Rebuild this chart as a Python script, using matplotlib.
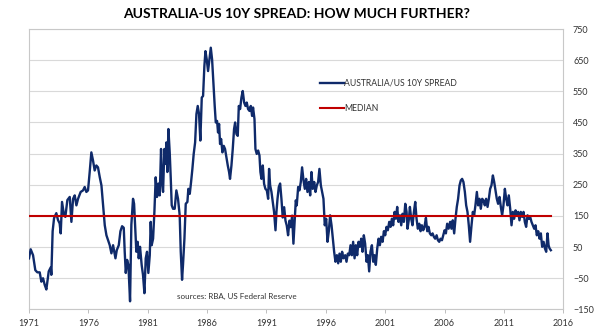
import matplotlib.pyplot as plt
import numpy as np

#australia minus us 10y yield spread, basis points, decimal years
years = [1971.00, 1971.14, 1971.34, 1971.53, 1971.70, 1971.90, 1972.04, 1972.18, 1972.32, 1972.46,
         1972.66, 1972.83, 1972.88, 1972.99, 1973.11, 1973.30, 1973.44, 1973.58, 1973.67, 1973.78,
         1973.95, 1974.06, 1974.23, 1974.43, 1974.57, 1974.71, 1974.85, 1974.99, 1975.13, 1975.35,
         1975.55, 1975.69, 1975.83, 1975.97, 1976.11, 1976.25, 1976.39, 1976.53, 1976.67, 1976.81,
         1976.96, 1977.10, 1977.24, 1977.38, 1977.52, 1977.66, 1977.80, 1977.94, 1978.08, 1978.28,
         1978.39, 1978.56, 1978.70, 1978.84, 1978.98, 1979.06, 1979.15, 1979.26, 1979.37, 1979.51,
         1979.62, 1979.76, 1979.85, 1979.99, 1980.04, 1980.15, 1980.24, 1980.35, 1980.49, 1980.60,
         1980.72, 1980.83, 1980.94, 1981.05, 1981.17, 1981.25, 1981.33, 1981.45, 1981.56, 1981.67,
         1981.78, 1981.90, 1982.01, 1982.12, 1982.20, 1982.29, 1982.40, 1982.49, 1982.57, 1982.65,
         1982.74, 1982.85, 1982.94, 1983.02, 1983.13, 1983.27, 1983.41, 1983.55, 1983.69, 1983.78,
         1983.89, 1983.97, 1984.09, 1984.20, 1984.34, 1984.42, 1984.54, 1984.65, 1984.76, 1984.87,
         1984.99, 1985.10, 1985.21, 1985.32, 1985.43, 1985.55, 1985.66, 1985.77, 1985.86, 1985.97,
         1986.08, 1986.19, 1986.31, 1986.42, 1986.53, 1986.64, 1986.73, 1986.84, 1986.92, 1987.01,
         1987.09, 1987.18, 1987.29, 1987.40, 1987.51, 1987.63, 1987.74, 1987.85, 1987.93, 1988.05,
         1988.16, 1988.27, 1988.36, 1988.47, 1988.58, 1988.67, 1988.78, 1988.89, 1989.00, 1989.12,
         1989.23, 1989.34, 1989.45, 1989.57, 1989.68, 1989.79, 1989.87, 1989.99, 1990.07, 1990.18,
         1990.30, 1990.41, 1990.49, 1990.58, 1990.69, 1990.80, 1990.91, 1991.03, 1991.14, 1991.22,
         1991.31, 1991.42, 1991.53, 1991.64, 1991.76, 1991.84, 1991.93, 1992.04, 1992.15, 1992.26,
         1992.37, 1992.49, 1992.60, 1992.71, 1992.82, 1992.94, 1993.05, 1993.16, 1993.27, 1993.39,
         1993.47, 1993.55, 1993.67, 1993.78, 1993.89, 1994.00, 1994.12, 1994.23, 1994.34, 1994.45,
         1994.57, 1994.68, 1994.79, 1994.90, 1995.02, 1995.13, 1995.24, 1995.35, 1995.46, 1995.58,
         1995.69, 1995.80, 1995.91, 1996.03, 1996.14, 1996.25, 1996.36, 1996.48, 1996.59, 1996.70,
         1996.81, 1996.93, 1997.04, 1997.15, 1997.26, 1997.37, 1997.49, 1997.63, 1997.74, 1997.85,
         1997.97, 1998.08, 1998.19, 1998.30, 1998.42, 1998.53, 1998.64, 1998.75, 1998.87, 1998.98,
         1999.09, 1999.20, 1999.31, 1999.43, 1999.54, 1999.65, 1999.76, 1999.88, 1999.99, 2000.10,
         2000.21, 2000.33, 2000.44, 2000.55, 2000.66, 2000.78, 2000.89, 2001.00, 2001.11, 2001.22,
         2001.34, 2001.45, 2001.56, 2001.67, 2001.79, 2001.90, 2002.01, 2002.12, 2002.24, 2002.35,
         2002.46, 2002.57, 2002.69, 2002.80, 2002.88, 2003.00, 2003.08, 2003.19, 2003.30, 2003.42,
         2003.53, 2003.64, 2003.75, 2003.87, 2003.98, 2004.09, 2004.20, 2004.31, 2004.43, 2004.54,
         2004.65, 2004.76, 2004.88, 2004.99, 2005.10, 2005.21, 2005.33, 2005.44, 2005.55, 2005.66,
         2005.78, 2005.89, 2006.00, 2006.11, 2006.22, 2006.34, 2006.47, 2006.58, 2006.69, 2006.81,
         2006.92, 2007.03, 2007.14, 2007.26, 2007.37, 2007.48, 2007.59, 2007.71, 2007.82, 2007.93,
         2008.04, 2008.15, 2008.27, 2008.38, 2008.49, 2008.60, 2008.72, 2008.83, 2008.94, 2009.05,
         2009.17, 2009.28, 2009.39, 2009.50, 2009.62, 2009.73, 2009.84, 2009.95, 2010.07, 2010.18,
         2010.29, 2010.40, 2010.51, 2010.63, 2010.74, 2010.85, 2010.96, 2011.08, 2011.19, 2011.30,
         2011.41, 2011.53, 2011.64, 2011.75, 2011.86, 2011.98, 2012.09, 2012.20, 2012.31, 2012.42,
         2012.54, 2012.65, 2012.76, 2012.87, 2012.99, 2013.10, 2013.21, 2013.32, 2013.44, 2013.55,
         2013.66, 2013.77, 2013.89, 2014.00, 2014.11, 2014.22, 2014.34, 2014.45, 2014.56, 2014.67,
         2014.76, 2014.84, 2014.95]
spread = [14, 43, 24, -24, -31, -31, -61, -50, -71, -86,
          -28, -15, -39, 101, 143, 159, 137, 126, 94, 195,
          152, 147, 201, 211, 131, 205, 216, 184, 205, 227,
          232, 243, 227, 232, 291, 354, 328, 296, 312, 306,
          274, 248, 184, 120, 88, 72, 56, 30, 56, 14,
          40, 56, 101, 117, 112, 35, -33, 9, -7, -124,
          122, 205, 189, 77, 35, 67, 14, 51, -8, -39,
          -98, 14, 35, -33, 24, 131, 56, 77, 163, 274,
          211, 254, 216, 365, 259, 227, 365, 317, 386, 291,
          429, 354, 269, 184, 173, 173, 232, 205, 152, 35,
          -55, -7, 77, 189, 195, 237, 221, 259, 301, 349,
          386, 477, 503, 477, 392, 530, 535, 631, 679, 652,
          615, 652, 690, 652, 578, 503, 450, 455, 418, 445,
          381, 397, 354, 375, 365, 338, 312, 291, 269, 312,
          365, 429, 450, 413, 407, 503, 493, 530, 551, 514,
          503, 514, 493, 487, 503, 471, 498, 461, 365, 349,
          360, 344, 291, 269, 312, 253, 237, 232, 205, 301,
          248, 227, 195, 163, 104, 163, 205, 243, 254, 205,
          145, 178, 135, 119, 88, 135, 114, 151, 61, 146,
          200, 184, 243, 232, 259, 306, 264, 237, 269, 227,
          259, 216, 291, 237, 259, 227, 248, 259, 301, 248,
          227, 205, 120, 141, 67, 101, 152, 120, 77, 35,
          3, 24, -2, 29, 3, 35, 14, 24, 3, 29,
          24, 56, 24, 67, 14, 56, 24, 67, 51, 77,
          35, 88, 61, 3, 24, -28, 35, 56, 3, 24,
          -7, 46, 77, 56, 83, 67, 101, 88, 115, 104,
          131, 115, 141, 120, 163, 141, 179, 131, 152, 120,
          157, 131, 189, 163, 109, 141, 179, 141, 120, 163,
          195, 141, 109, 125, 101, 120, 104, 115, 144, 101,
          115, 94, 88, 94, 83, 77, 88, 72, 67, 77,
          72, 88, 104, 94, 125, 109, 131, 109, 136, 94,
          141, 179, 205, 248, 264, 269, 259, 227, 184, 163,
          120, 67, 120, 163, 152, 184, 227, 184, 205, 173,
          205, 200, 184, 205, 179, 205, 237, 248, 280, 259,
          232, 205, 189, 211, 179, 152, 184, 237, 205, 184,
          216, 173, 120, 163, 141, 168, 152, 163, 136, 163,
          147, 163, 131, 115, 152, 141, 147, 131, 120, 109,
          120, 88, 101, 77, 94, 51, 67, 46, 35, 94,
          56, 46, 40]

MEDIAN = 150
x_ticks = [1971, 1976, 1981, 1986, 1991, 1996, 2001, 2006, 2011, 2016]
y_ticks = [-150, -50, 50, 150, 250, 350, 450, 550, 650, 750]

plt.rcParams['font.family'] = ['Lato', 'DejaVu Sans']
txt_col = '#333333'

fig = plt.figure(figsize=(6.02, 3.30), dpi=100)
ax = fig.add_axes([0.0482, 0.0624, 0.8875, 0.8497])

ax.plot(years, spread, color='#0f2a6a', lw=1.7, label='AUSTRALIA/US 10Y SPREAD', zorder=3)
ax.plot([years[0], years[-1]], [MEDIAN, MEDIAN], color='#c00000', lw=1.5, label='MEDIAN', zorder=4)

ax.set_xlim(x_ticks[0], x_ticks[-1])
ax.set_ylim(y_ticks[0], y_ticks[-1])
ax.set_xticks(x_ticks)
ax.set_yticks(y_ticks)
ax.yaxis.tick_right()
ax.tick_params(axis='y', length=0, pad=7, labelsize=6.5, labelcolor=txt_col)
ax.tick_params(axis='x', length=3, width=0.7, color='#bfbfbf', pad=4, labelsize=6.5, labelcolor=txt_col)
ax.grid(axis='y', color='#d9d9d9', lw=0.8)
ax.set_axisbelow(True)
for s in ax.spines.values():
    s.set_color('#c8c8c8')
    s.set_linewidth(0.8)

ax.set_title('AUSTRALIA-US 10Y SPREAD: HOW MUCH FURTHER?', fontsize=10, fontweight='bold',
             color='black', pad=8)

# legend sits in the empty band under the 1986 peak
leg = ax.legend(loc='upper left', bbox_to_anchor=(0.53, 0.85), frameon=False, fontsize=6.2,
                handlelength=2.8, handletextpad=0.05, labelspacing=1.9, labelcolor=txt_col)

ax.text(0.277, 0.045, 'sources: RBA, US Federal Reserve', transform=ax.transAxes,
        fontsize=5.8, color=txt_col, va='center')

fig.savefig('out.png', dpi=100)
